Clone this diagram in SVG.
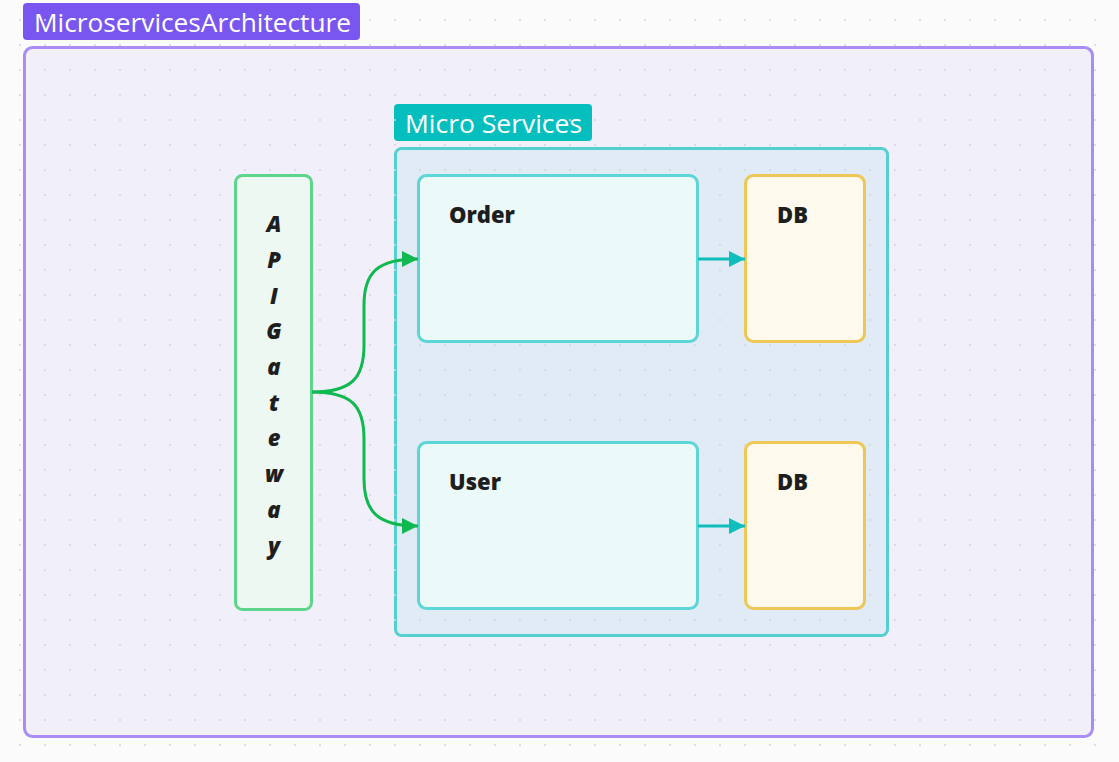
<svg xmlns="http://www.w3.org/2000/svg" width="1119" height="762" viewBox="0 0 1119 762">
<defs>
<pattern id="dots" x="0" y="0" width="25" height="25" patternUnits="userSpaceOnUse">
<circle cx="20" cy="20" r="1" fill="#d4d4dc"/>
</pattern>
<marker id="ag" viewBox="0 0 16 16" refX="16" refY="8" markerWidth="16" markerHeight="16" markerUnits="userSpaceOnUse" orient="auto">
<path d="M0,0 L16,8 L0,16 Z" fill="#10b94f"/>
</marker>
<marker id="at" viewBox="0 0 16 16" refX="16" refY="8" markerWidth="16" markerHeight="16" markerUnits="userSpaceOnUse" orient="auto">
<path d="M0,0 L16,8 L0,16 Z" fill="#0fbdbd"/>
</marker>
<style>
.lbl{font-family:"Open Sans","Noto Sans",sans-serif;font-size:25px;fill:#ffffff}
.nt{font-family:"Open Sans","Noto Sans",sans-serif;font-size:22px;font-weight:800;fill:#1e1e1e}
.gw{font-family:"Open Sans","Noto Sans",sans-serif;font-size:22px;font-weight:800;font-style:italic;fill:#1e1e1e;text-anchor:middle}
.svc{fill:#ebf9f9;stroke:#5cd6d6;stroke-width:3}
.db{fill:#fdf9ec;stroke:#eec757;stroke-width:3}
.cg{fill:none;stroke:#10b94f;stroke-width:3}
.ct{fill:none;stroke:#0fbdbd;stroke-width:3}
</style>
</defs>
<rect width="1119" height="762" fill="#fbfbfc"/>
<g id="frame-architecture">
<rect x="24.5" y="47.5" width="1068" height="689" rx="8" fill="#f1effa" stroke="#a98df5" stroke-width="3"/>
<rect x="23" y="3" width="337" height="37" rx="4" fill="#7a56f0"/>
<text class="lbl" x="34" y="32" textLength="317" lengthAdjust="spacingAndGlyphs">MicroservicesArchitecture</text>
</g>
<g id="frame-microservices">
<rect x="395.5" y="148.5" width="492" height="487" rx="6" fill="#e1ebf5" stroke="#55d0d0" stroke-width="3"/>
<rect x="394" y="104" width="198" height="37" rx="4" fill="#05bebe"/>
<text class="lbl" x="405" y="133" textLength="177" lengthAdjust="spacingAndGlyphs">Micro Services</text>
</g>
<rect width="1119" height="762" fill="url(#dots)"/>
<g id="api-gateway">
<rect x="235.5" y="175.5" width="76" height="434" rx="7" fill="#eef8f3" stroke="#5dd58a" stroke-width="3"/>
<text class="gw" x="274" y="232">A</text>
<text class="gw" x="274" y="268">P</text>
<text class="gw" x="274" y="304">I</text>
<text class="gw" x="274" y="339">G</text>
<text class="gw" x="274" y="375">a</text>
<text class="gw" x="274" y="411">t</text>
<text class="gw" x="274" y="446">e</text>
<text class="gw" x="274" y="482">w</text>
<text class="gw" x="274" y="518">a</text>
<text class="gw" x="274" y="554">y</text>
</g>
<g id="order">
<rect class="svc" x="418.5" y="175.5" width="279" height="166" rx="8"/>
<text class="nt" x="449" y="223">Order</text>
</g>
<g id="order-db">
<rect class="db" x="745.5" y="175.5" width="119" height="166" rx="8"/>
<text class="nt" x="777" y="223">DB</text>
</g>
<g id="user">
<rect class="svc" x="418.5" y="442.5" width="279" height="166" rx="8"/>
<text class="nt" x="449" y="490">User</text>
</g>
<g id="user-db">
<rect class="db" x="745.5" y="442.5" width="119" height="166" rx="8"/>
<text class="nt" x="777" y="490">DB</text>
</g>
<g id="connectors">
<path class="cg" d="M312,392 C352,392 364,378 364,345 L364,305 C364,272 378,259 418,259" marker-end="url(#ag)"/>
<path class="cg" d="M312,392 C352,392 364,406 364,439 L364,479 C364,512 378,526 418,526" marker-end="url(#ag)"/>
<path class="ct" d="M698,259 L745,259" marker-end="url(#at)"/>
<path class="ct" d="M698,526 L745,526" marker-end="url(#at)"/>
</g>
</svg>
